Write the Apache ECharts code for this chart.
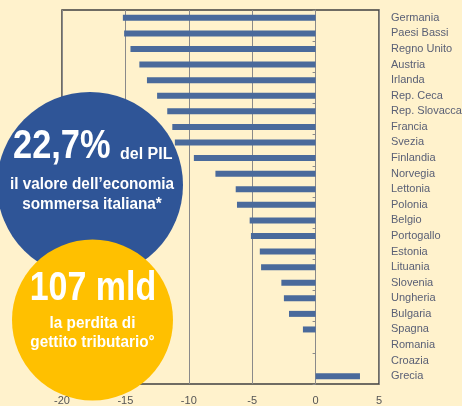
<!DOCTYPE html>
<html>
<head>
<meta charset="utf-8">
<script src="https://cdn.jsdelivr.net/npm/echarts@6/dist/echarts.min.js"></script>
<style>
  html, body { margin: 0; padding: 0; background: #fff2cc; }
  #chart { width: 462px; height: 406px; }
</style>
</head>
<body>
<div id="chart"></div>
<script>
var countries = ["Germania", "Paesi Bassi", "Regno Unito", "Austria", "Irlanda", "Rep. Ceca",
  "Rep. Slovacca", "Francia", "Svezia", "Finlandia", "Norvegia", "Lettonia", "Polonia",
  "Belgio", "Portogallo", "Estonia", "Lituania", "Slovenia", "Ungheria", "Bulgaria",
  "Spagna", "Romania", "Croazia", "Grecia"];
var values = [-15.2, -15.1, -14.6, -13.9, -13.3, -12.5, -11.7, -11.3, -11.1, -9.6, -7.9, -6.3,
  -6.2, -5.2, -5.1, -4.4, -4.3, -2.7, -2.5, -2.1, -1.0, 0, 0, 3.5];
var xTicks = { min: -20, max: 5, step: 5 };

var boldFont = "bold {s}px 'Liberation Sans', Arial, sans-serif";
function f(size) { return boldFont.replace("{s}", size); }

// white captions inside the two circles
function caption(text, x, y, size, sx, align, z) {
  return {
    type: "text", x: x, y: y, scaleX: sx, z: z,
    style: { text: text, fill: "#fff", font: f(size), textAlign: align, textVerticalAlign: "middle" }
  };
}

var chart = echarts.init(document.getElementById("chart"));

chart.setOption({
  backgroundColor: "#fff2cc",
  animation: false,
  grid: {
    left: 62, right: 83, top: 10, bottom: 22,
    outerBoundsMode: "none",
    containLabel: false,
    show: true, borderColor: "#404040", borderWidth: 1.5
  },
  xAxis: {
    type: "value",
    min: xTicks.min, max: xTicks.max, interval: xTicks.step,
    axisLine: { show: false },
    axisTick: { show: false },
    axisLabel: { color: "#555", fontSize: 11, fontFamily: "Liberation Sans", margin: 11 },
    splitLine: { lineStyle: { color: "#8a8a8a", width: 1 } }
  },
  yAxis: [
    {
      type: "category",
      data: countries,
      inverse: true,
      position: "right",
      axisLine: { show: false, onZero: false },
      axisTick: { show: false },
      axisLabel: { color: "#5a6076", fontSize: 11, fontFamily: "Liberation Sans", margin: 12 }
    },
    {
      type: "category",
      data: countries,
      inverse: true,
      position: "left",
      axisLine: { show: true, onZero: true, onZeroAxisIndex: 0, lineStyle: { color: "#8a8a8a", width: 1 } },
      axisTick: { show: true, length: 3, lineStyle: { color: "#8a8a8a" } },
      axisLabel: { show: false }
    }
  ],
  series: [{
    type: "bar",
    data: values,
    barWidth: 6,
    itemStyle: { color: "#4a6a9b" }
  }],
  graphic: [
    { type: "circle", shape: { cx: 90, cy: 185, r: 93 }, style: { fill: "#2f5597" }, z: 100 },
    { type: "circle", shape: { cx: 92.5, cy: 320, r: 80.5 }, style: { fill: "#ffc000" }, z: 101 },
    caption("22,7%", 13, 147, 40, 0.86, "left", 110),
    caption("del PIL", 120, 154.5, 16, 1, "left", 110),
    caption("il valore dell\u2019economia", 92, 184, 17, 0.9, "center", 110),
    caption("sommersa italiana*", 92, 204, 17, 0.9, "center", 110),
    caption("107 mld", 93, 288.5, 40, 0.85, "center", 111),
    caption("la perdita di", 92.5, 323.5, 17, 0.9, "center", 111),
    caption("gettito tributario\u00b0", 92.5, 342.5, 17, 0.9, "center", 111)
  ]
});
</script>
</body>
</html>
